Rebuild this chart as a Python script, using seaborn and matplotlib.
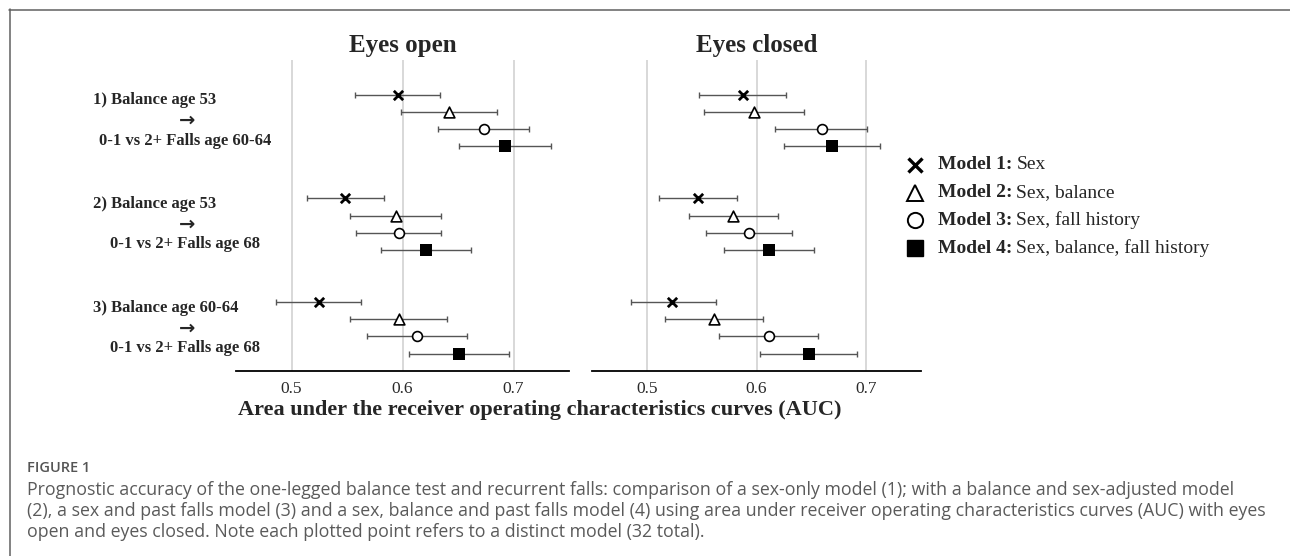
import matplotlib.pyplot as plt
import matplotlib.transforms as mtransforms
from matplotlib.lines import Line2D
import pandas as pd
import seaborn as sns

# ---------------------------------------------- DATA ----------------------------------------------
panels = ["Eyes open", "Eyes closed"]
groups = ["1) Balance age 53", "2) Balance age 53", "3) Balance age 60-64"]
outcomes = ["0-1 vs 2+ Falls age 60-64", "0-1 vs 2+ Falls age 68", "0-1 vs 2+ Falls age 68"]
models = ["Model 1", "Model 2", "Model 3", "Model 4"]
model_desc = ["Sex", "Sex, balance", "Sex, fall history", "Sex, balance, fall history"]

# AUC with 95% CI: one row per comparison, one column per model
open_auc = [[0.596, 0.642, 0.673, 0.692], [0.548, 0.594, 0.597, 0.621], [0.525, 0.597, 0.613, 0.651]]
open_lo = [[0.557, 0.599, 0.632, 0.651], [0.514, 0.553, 0.558, 0.581], [0.486, 0.553, 0.568, 0.606]]
open_hi = [[0.634, 0.685, 0.714, 0.734], [0.583, 0.635, 0.635, 0.662], [0.563, 0.640, 0.658, 0.696]]
closed_auc = [[0.588, 0.598, 0.660, 0.669], [0.547, 0.579, 0.593, 0.611], [0.523, 0.561, 0.611, 0.648]]
closed_lo = [[0.548, 0.552, 0.617, 0.625], [0.511, 0.538, 0.554, 0.570], [0.486, 0.517, 0.566, 0.603]]
closed_hi = [[0.627, 0.643, 0.701, 0.713], [0.582, 0.620, 0.632, 0.652], [0.563, 0.606, 0.656, 0.692]]

xticks = [0.5, 0.6, 0.7]

caption_title = "FIGURE 1"
caption_lines = [
    "Prognostic accuracy of the one-legged balance test and recurrent falls: comparison of a sex-only model (1); with a balance and sex-adjusted model",
    "(2), a sex and past falls model (3) and a sex, balance and past falls model (4) using area under receiver operating characteristics curves (AUC) with eyes",
    "open and eyes closed. Note each plotted point refers to a distinct model (32 total).",
]

# ---------------------------------------------- LONG TABLE ----------------------------------------------
values = {"Eyes open": (open_auc, open_lo, open_hi), "Eyes closed": (closed_auc, closed_lo, closed_hi)}
rows = []
for panel in panels:
    auc, lo, hi = values[panel]
    for g in range(len(groups)):
        for m in range(len(models)):
            rows.append(dict(panel=panel, group=g, model=models[m], auc=auc[g][m],
                             lo=lo[g][m], hi=hi[g][m], row=g * 6 + m))
df = pd.DataFrame(rows)

# ---------------------------------------------- STYLE ----------------------------------------------
sns.set_style("white")
plt.rcParams["font.family"] = ["Liberation Serif", "DejaVu Serif"]

styles = {
    "Model 1": dict(marker="x", s=45, color="black", linewidth=2.0),
    "Model 2": dict(marker="^", s=60, color="white", edgecolor="black", linewidth=1.2),
    "Model 3": dict(marker="o", s=50, color="white", edgecolor="black", linewidth=1.2),
    "Model 4": dict(marker="s", s=85, color="black", edgecolor="black", linewidth=0),
}

W, H = 1290, 556
fig = plt.figure(figsize=(W / 100, H / 100), dpi=100)
ax_pos = {"Eyes open": [236 / W, 1 - 371 / H, 333 / W, 311 / H],
          "Eyes closed": [592 / W, 1 - 371 / H, 329 / W, 311 / H]}

axes = []
for panel in panels:
    ax = fig.add_axes(ax_pos[panel])
    sub = df[df.panel == panel]
    ax.errorbar(sub.auc, sub.row, xerr=[sub.auc - sub.lo, sub.hi - sub.auc], fmt="none",
                ecolor="#555555", elinewidth=1.0, capsize=2.5, capthick=1.0, zorder=2)
    for model in models:
        sns.scatterplot(data=sub[sub.model == model], x="auc", y="row", ax=ax, zorder=3,
                        legend=False, **styles[model])
    ax.set_xlim(0.45, 0.75)
    ax.set_ylim(16, -2)
    ax.set_xticks(xticks)
    ax.set_xticklabels([f"{t:.1f}" for t in xticks])
    ax.set_yticks([])
    ax.set_xlabel("")
    ax.set_ylabel("")
    ax.grid(axis="x", color="#d2d2d2", linewidth=1.2)
    ax.set_axisbelow(True)
    for side in ["top", "left", "right"]:
        ax.spines[side].set_visible(False)
    ax.spines["bottom"].set_color("black")
    ax.spines["bottom"].set_linewidth(1.3)
    ax.tick_params(axis="x", length=0, pad=7, labelsize=12.5, labelcolor="#2a2a2a")
    ax.set_title(panel, fontsize=18, fontweight="bold", pad=6)
    axes.append(ax)

# comparison labels on the left
trans = mtransforms.blended_transform_factory(fig.transFigure, axes[0].transData)
for g in range(len(groups)):
    mid = g * 6 + 1.5
    fig.text(93 / W, mid - 1.16, groups[g], transform=trans, ha="left", va="center",
             fontsize=12, fontweight="bold")
    fig.text(187 / W, mid, "\u2192", transform=trans, ha="center", va="center",
             fontsize=14, fontweight="bold", family="DejaVu Sans")
    fig.text(185 / W, mid + 1.16, outcomes[g], transform=trans, ha="center", va="center",
             fontsize=12, fontweight="bold")

fig.text(540 / W, 1 - 410 / H, "Area under the receiver operating characteristics curves (AUC)",
         ha="center", va="center", fontsize=16, fontweight="bold")

# legend, drawn by hand so that only "Model n:" is bold
leg_marks = {
    "Model 1": dict(marker="x", color="black", markersize=10, markeredgewidth=2.4),
    "Model 2": dict(marker="^", markerfacecolor="white", markeredgecolor="black", markersize=11, markeredgewidth=1.4),
    "Model 3": dict(marker="o", markerfacecolor="white", markeredgecolor="black", markersize=11, markeredgewidth=1.4),
    "Model 4": dict(marker="s", color="black", markersize=12),
}
fig.canvas.draw()
renderer = fig.canvas.get_renderer()
for i, (m, d) in enumerate(zip(models, model_desc)):
    y = 1 - (165 + 27.7 * i) / H
    fig.add_artist(Line2D([915 / W], [y], transform=fig.transFigure, linestyle="none", **leg_marks[m]))
    t = fig.text(938 / W, y, m + ":", ha="left", va="center", fontsize=14, fontweight="bold")
    bb = t.get_window_extent(renderer)
    fig.text((bb.x1 + 4) / W, y, d, ha="left", va="center", fontsize=14)

# caption
fig.text(27 / W, 1 - 468 / H, caption_title, fontfamily="Open Sans", fontweight="semibold",
         fontsize=10.5, color="#555555", va="center")
for i, line in enumerate(caption_lines):
    fig.text(27 / W, 1 - (490 + 21 * i) / H, line, fontfamily="Open Sans", fontsize=12.8,
             color="#5a5a5a", va="center")

# page border (top and left)
fig.add_artist(Line2D([9 / W, 1], [1 - 9.5 / H, 1 - 9.5 / H], transform=fig.transFigure, color="#606060", lw=1.1))
fig.add_artist(Line2D([9.5 / W, 9.5 / W], [1 - 9 / H, 0], transform=fig.transFigure, color="#606060", lw=1.1))

fig.savefig("out.png", dpi=100)
